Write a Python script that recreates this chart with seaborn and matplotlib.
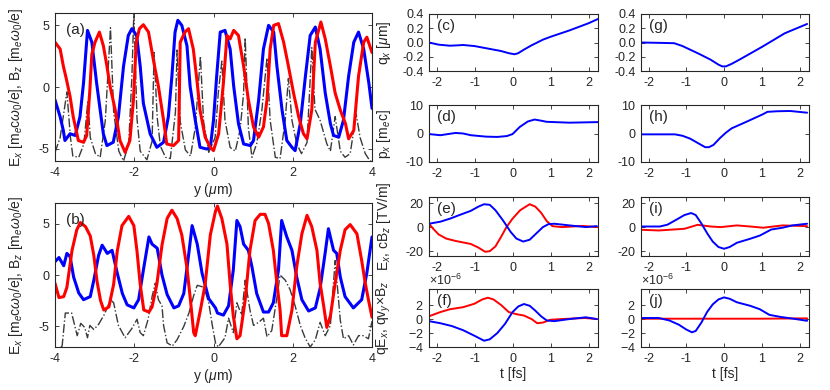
import numpy as np
import seaborn as sns
import matplotlib.pyplot as plt
from matplotlib.ticker import ScalarFormatter

# ---- panel (a): fields vs y ----
a_blue_y = [-4.00, -3.87, -3.79, -3.75, -3.62, -3.49, -3.37, -3.28, -3.18, -3.07, -2.95, -2.86, -2.78, -2.69,
            -2.53, -2.40, -2.27, -2.15, -2.06, -1.94, -1.85, -1.77, -1.60, -1.43, -1.26, -1.14, -1.05, -0.97,
            -0.90, -0.80, -0.67, -0.59, -0.46, -0.34, -0.17, -0.08, 0.00, 0.08, 0.17, 0.29, 0.42, 0.51, 0.63,
            0.76, 0.93, 1.01, 1.14, 1.26, 1.39, 1.52, 1.60, 1.73, 1.85, 1.98, 2.06, 2.19, 2.32, 2.44, 2.57,
            2.69, 2.82, 2.95, 3.03, 3.16, 3.28, 3.41, 3.54, 3.66, 3.79, 3.92, 4.00]
a_blue_v = [-1.04, -2.42, -3.52, -4.34, -3.79, -3.93, -2.42, 0.33, 4.59, 3.63, 0.33, -1.87, -3.79, -4.75,
            -4.48, -2.42, 1.70, 4.18, 4.73, 4.18, 1.70, -1.32, -3.79, -4.89, -4.48, -2.42, 0.88, 4.45,
            5.41, 5.00, 3.35, 0.05, -2.69, -4.89, -5.03, -4.89, -2.69, 0.88, 4.45, 4.59, 3.08, 0.05, -2.97,
            -4.62, -4.75, -4.34, -1.04, 3.08, 5.00, 4.45, 1.70, -1.87, -4.34, -4.89, -5.16, -2.97, 0.88, 4.18, 4.86,
            3.08, -0.49, -2.97, -3.93, -4.07, -2.69, 0.88, 3.63, 4.45, 3.08, 0.33, -1.73]
a_red_y = [-4.00, -3.87, -3.79, -3.71, -3.62, -3.54, -3.41, -3.28, -3.20, -3.12, -3.07, -2.99, -2.88, -2.78,
           -2.69, -2.61, -2.48, -2.36, -2.23, -2.11, -2.02, -1.95, -1.87, -1.77, -1.64, -1.52, -1.39, -1.26,
           -1.18, -1.01, -0.88, -0.84, -0.72, -0.63, -0.51, -0.42, -0.34, -0.21, -0.08, 0.00, 0.13, 0.25,
           0.34, 0.42, 0.51, 0.63, 0.76, 0.88, 1.01, 1.14, 1.26, 1.35, 1.43, 1.52, 1.64, 1.77, 1.89, 2.02,
           2.15, 2.27, 2.36, 2.48, 2.57, 2.71, 2.82, 2.95, 3.07, 3.20, 3.33, 3.41, 3.54, 3.66, 3.79, 3.87, 4.00]
a_red_v = [3.63, 3.08, 1.70, 0.60, -0.77, -2.42, -4.34, -4.48, -3.93, -0.22, 2.66, 3.63, 4.45, 3.35,
           1.70, 0.05, -1.87, -4.34, -5.30, -4.34, -1.04, 3.63, 4.73, 5.05, 4.45, 2.25, 0.05, -2.69,
           -4.62, -4.75, -4.34, 3.63, 4.45, 4.73, 3.08, 0.60, -1.87, -4.07, -4.89, -5.16, -3.79, 0.33,
           4.18, 3.90, 4.59, 4.18, 1.70, -1.04, -3.24, -4.07, -3.24, -1.04, 3.08, 5.00, 5.14, 3.63, 1.70, -0.49,
           -2.42, -3.79, -4.20, -1.87, 3.63, 5.27, 3.90, 1.70, -0.49, -1.87, -2.97, -4.20, -3.52, 0.88, 3.63, 4.04, 2.80]
a_dash_y = [-4.00, -3.87, -3.70, -3.61, -3.55, -3.40, -3.27, -3.17, -3.11, -2.98, -2.86, -2.73, -2.60, -2.52,
            -2.39, -2.27, -2.14, -2.06, -2.01, -1.93, -1.85, -1.68, -1.55, -1.50, -1.42, -1.34, -1.21, -1.09,
            -0.96, -0.92, -0.84, -0.71, -0.58, -0.46, -0.33, -0.25, -0.12, 0.04, 0.12, 0.21, 0.29, 0.42, 0.55,
            0.67, 0.76, 0.80, 0.88, 0.97, 1.09, 1.22, 1.35, 1.43, 1.56, 1.68, 1.81, 1.89, 1.98, 2.10, 2.22,
            2.36, 2.48, 2.56, 2.69, 2.86, 2.95, 3.07, 3.20, 3.32, 3.45, 3.60, 3.70, 3.83, 3.95, 4.00]
a_dash_v = [-5.3, -4.1, -0.4, -4.1, -5.6, -5.7, -4.6, -1.1, -4.1, -5.4, -5.7, -2.7, 4.8, -2.0,
            -5.2, -6.0, -4.6, 0.8, 6.0, -2.6, -5.2, -5.9, -4.4, 2.8, -2.5, -4.8, -5.7, -5.8,
            -2.0, 3.0, -2.8, -5.1, -5.6, -3.3, 2.5, -2.8, -5.3, -4.1, -0.5, 2.1, -2.7, -4.9, -5.2,
            -3.5, -0.5, 4.0, -3.3, -5.7, -4.6, -1.9, 2.35, -2.7, -5.7, -5.8, -2.7, 0.7, -2.7, -4.6, -5.4,
            -4.5, 3.2, -1.8, -2.7, -4.6, -5.2, -2.4, -5.2, -5.7, -5.4, -2.2, -4.1, -5.4, -6.0, -6.0]

# ---- panel (b) ----
b_blue_y = [-4.00, -3.90, -3.78, -3.70, -3.62, -3.53, -3.40, -3.28, -3.11, -3.02, -2.90, -2.81, -2.68, -2.56,
            -2.43, -2.30, -2.18, -2.01, -1.89, -1.76, -1.63, -1.55, -1.42, -1.30, -1.17, -1.00, -0.88, -0.75,
            -0.62, -0.54, -0.41, -0.29, -0.12, 0.05, 0.10, 0.25, 0.38, 0.50, 0.59, 0.67, 0.76, 0.88, 0.97,
            1.09, 1.26, 1.39, 1.51, 1.64, 1.72, 1.85, 1.98, 2.10, 2.23, 2.40, 2.57, 2.69, 2.82, 2.90, 3.03,
            3.11, 3.20, 3.32, 3.53, 3.74, 3.87, 4.00]
b_blue_v = [1.3, 1.7, 0.9, 2.1, 1.8, -0.2, -1.75, -2.4, -2.1, -0.5, 1.9, 2.9, 2.1, 2.4,
            0.2, -1.8, -2.9, -3.2, -2.4, 0.7, 3.7, 3.0, 2.6, 0.0, -1.9, -3.2, -3.0, -1.8,
            2.2, 4.8, 3.0, 0.2, -2.3, -3.2, -3.7, -3.9, -3.0, 0.5, 5.3, 4.7, 3.0, 2.4, 0.8,
            -1.8, -3.6, -3.6, -2.7, 0.5, 5.3, 3.7, 2.4, -0.2, -2.4, -3.5, -3.2, -1.3, 2.2, 4.5, 2.4,
            2.1, -0.2, -2.1, -3.2, -2.4, 0.2, 3.7]
b_red_y = [-4.00, -3.90, -3.78, -3.70, -3.57, -3.45, -3.36, -3.23, -3.11, -3.02, -2.94, -2.85, -2.77, -2.64,
           -2.52, -2.43, -2.31, -2.14, -2.01, -1.93, -1.85, -1.76, -1.63, -1.55, -1.43, -1.30, -1.17, -1.05,
           -0.92, -0.80, -0.67, -0.58, -0.50, -0.46, -0.33, -0.21, -0.08, 0.05, 0.10, 0.21, 0.34, 0.42, 0.50,
           0.59, 0.67, 0.80, 0.92, 1.05, 1.18, 1.30, 1.39, 1.51, 1.60, 1.68, 1.72, 1.85, 1.98, 2.10, 2.23,
           2.36, 2.48, 2.61, 2.69, 2.78, 2.86, 2.95, 3.07, 3.20, 3.32, 3.45, 3.62, 3.74, 3.83, 3.91, 4.00]
b_red_v = [-0.8, -2.2, -2.1, -1.2, 2.4, 4.4, 5.1, 4.7, 3.8, 1.9, -0.6, -2.5, -3.4, -3.1,
           -0.9, 2.3, 4.8, 5.7, 4.8, 2.3, -0.9, -3.4, -3.6, -3.1, -0.9, 2.9, 5.5, 6.3,
           5.5, 3.9, 0.7, -2.5, -5.6, -5.9, -3.4, -0.9, 3.9, 6.2, 6.7, 5.5, 3.0, -0.9, -4.0,
           -6.2, -5.9, -2.4, 2.4, 5.3, 5.9, 5.9, 5.0, 2.4, -0.8, -3.4, -5.9, -5.9, -3.4, 0.8, 4.0,
           5.8, 4.7, 2.4, -0.8, -3.0, -5.1, -4.0, -0.8, 2.4, 4.4, 4.9, 4.0, 1.4, -0.8, -2.4, -4.1]
b_dash_y = [-3.85, -3.82, -3.74, -3.58, -3.44, -3.35, -3.25, -3.18, -3.12, -3.02, -2.90, -2.75, -2.60, -2.52,
            -2.40, -2.23, -2.06, -1.93, -1.85, -1.77, -1.65, -1.55, -1.47, -1.39, -1.30, -1.26, -1.17, -1.04,
            -0.92, -0.75, -0.62, -0.50, -0.41, -0.24, -0.12, -0.03, 0.05, 0.12, 0.29, 0.38, 0.50, 0.59, 0.71,
            0.80, 0.92, 1.01, 1.14, 1.26, 1.35, 1.47, 1.60, 1.68, 1.81, 1.93, 2.06, 2.19, 2.31, 2.44, 2.57,
            2.69, 2.82, 2.95, 3.07, 3.20, 3.28, 3.41, 3.53, 3.66, 3.78, 3.91, 4.00]
b_dash_v = [-7.0, -6.9, -3.7, -3.7, -5.9, -4.7, -5.1, -6.1, -4.9, -5.3, -4.8, -3.8, -2.4, -2.7,
            -4.9, -6.1, -5.2, -4.3, -5.6, -5.9, -4.3, -2.1, -0.8, -2.4, -3.0, -4.9, -6.6, -6.9,
            -6.3, -5.0, -3.7, -2.0, -1.0, -1.2, -2.7, -4.9, -6.6, -7.0, -6.1, -4.2, -5.6, -2.7, -3.9,
            -0.5, -3.4, -4.9, -4.6, -4.2, -6.0, -5.4, -2.2, 0.0, -0.5, -1.4, -3.0, -4.9, -6.1, -7.0, -6.3,
            -4.6, -5.9, -4.9, 1.4, -4.4, -6.2, -5.9, -6.8, -5.9, -5.9, -6.2, -4.5]

# ---- (c) q_x, (d) p_x : first set ----
c_t = [-2.2, -1.95, -1.65, -1.45, -1.3, -1.0, -0.6, -0.3, -0.1, 0.05, 0.15, 0.3, 0.5, 0.8, 1.0, 1.5, 2.0, 2.25]
c_q = [0.0, -0.03, -0.045, -0.04, -0.035, -0.05, -0.09, -0.12, -0.15, -0.165, -0.15, -0.1, -0.04, 0.04, 0.08,
       0.17, 0.27, 0.33]
d_t = [-2.2, -1.9, -1.7, -1.5, -1.3, -1.1, -0.7, -0.4, -0.15, 0.0, 0.19, 0.4, 0.58, 0.75, 0.9, 1.5, 2.25]
d_p = [-0.2, -0.6, -0.2, 0.2, 0.0, -0.6, -1.1, -1.2, -0.9, -0.2, 2.3, 4.2, 4.9, 4.5, 4.1, 3.8, 4.0]
# ---- (g) q_x, (h) p_x : second set ----
g_t = [-2.2, -1.7, -1.32, -1.1, -0.9, -0.66, -0.36, -0.15, -0.05, 0.05, 0.2, 0.41, 1.01, 1.61, 2.2]
g_q = [0.0, -0.005, -0.01, -0.05, -0.1, -0.16, -0.24, -0.31, -0.335, -0.335, -0.3, -0.24, -0.06, 0.13, 0.26]
h_t = [-2.2, -1.3, -1.1, -0.9, -0.7, -0.5, -0.4, -0.28, -0.1, 0.05, 0.2, 0.59, 1.02, 1.15, 1.4, 1.75, 2.2]
h_p = [-0.3, -0.3, -0.8, -1.8, -3.3, -4.8, -4.8, -4.0, -1.5, 0.3, 1.8, 4.1, 6.7, 7.6, 7.8, 7.9, 7.3]

# ---- (e) E_x, cB_z ----
e_t_blue = [-2.2, -1.9, -1.65, -1.4, -1.1, -0.9, -0.75, -0.6, -0.45, -0.25, -0.05, 0.1, 0.28, 0.45, 0.6, 0.8,
            0.95, 1.1, 1.5, 1.93, 2.22]
e_blue = [2.8, 4.5, 7.0, 10.0, 13.5, 17.0, 19.0, 18.5, 14.0, 5.5, -4.0, -9.5, -12.0, -10.5, -6.0, 0.0,
          2.5, 2.8, 1.4, 0.0, 0.8]
e_t_red = [-2.2, -2.1, -1.95, -1.75, -1.5, -1.1, -0.9, -0.72, -0.6, -0.45, -0.3, -0.16, 0.0, 0.2, 0.45, 0.6,
           0.75, 0.9, 1.05, 1.3, 1.85, 2.22]
e_red = [2.8, -1.0, -6.0, -9.5, -11.5, -14.0, -17.0, -20.5, -20.0, -16.0, -8.0, 0.0, 7.0, 14.0, 19.0, 17.0,
         12.0, 5.0, 0.8, 0.0, 1.0, 0.0]
# ---- (i) ----
i_t_blue = [-2.2, -1.7, -1.5, -1.3, -1.05, -0.87, -0.75, -0.6, -0.44, -0.3, -0.15, 0.0, 0.15, 0.34, 0.69, 0.95,
            1.1, 1.25, 1.55, 1.81, 2.2]
i_blue = [0.5, 0.5, 2.0, 5.5, 10.0, 11.7, 10.0, 3.0, -5.5, -12.0, -16.5, -18.0, -16.5, -13.0, -9.7, -7.0,
          -4.5, -2.0, -0.5, 1.4, 2.8]
i_t_red = [-2.2, -1.73, -1.05, -0.7, -0.36, -0.09, 0.34, 0.69, 1.04, 1.55, 2.2]
i_red = [-2.2, -2.8, -1.4, 1.9, 0.5, 0.0, 1.4, 0.5, -0.5, 1.4, 0.8]

# ---- (f) qE_x, qv_y x B_z (units of 1e-6) ----
f_t_red = [-2.2, -1.9, -1.65, -1.3, -1.0, -0.8, -0.65, -0.5, -0.3, -0.1, 0.1, 0.3, 0.5, 0.65, 0.8, 1.0, 1.3,
           1.9, 2.22]
f_red = [0.4, 1.0, 1.4, 1.7, 2.2, 2.8, 3.05, 2.8, 2.0, 1.0, 0.7, 0.5, 0.0, -0.6, -0.5, -0.1, 0.0, 0.15, 0.0]
f_t_blue = [-2.2, -1.9, -1.6, -1.3, -1.0, -0.75, -0.6, -0.4, -0.2, 0.0, 0.15, 0.3, 0.45, 0.6, 0.75, 0.9, 1.1,
            1.5, 1.93, 2.22]
f_blue = [-0.3, -0.6, -1.0, -1.6, -2.4, -3.1, -2.9, -2.0, -0.7, 1.0, 1.8, 2.15, 1.9, 1.2, 0.4, -0.2, -0.3,
          0.0, 0.25, 0.0]
# ---- (j) ----
j_t_blue = [-2.2, -1.73, -1.45, -1.2, -1.0, -0.85, -0.75, -0.6, -0.45, -0.3, -0.15, 0.0, 0.15, 0.34, 0.69,
            0.95, 1.2, 1.5, 1.9, 2.2]
j_blue = [0.15, 0.15, -0.2, -0.8, -1.5, -1.9, -1.7, -0.5, 1.0, 2.1, 2.8, 3.1, 2.9, 2.4, 1.9,
          1.4, 0.6, 0.3, 0.0, -0.25]
j_t_red = [-2.2, -1.0, 0.0, 1.0, 2.2]
j_red = [0.05, 0.05, 0.05, 0.05, 0.1]

sns.set_theme(style="ticks")
plt.rcParams['font.family'] = ['Liberation Sans', 'DejaVu Sans']
plt.rcParams['mathtext.fontset'] = 'custom'
plt.rcParams['mathtext.rm'] = 'Liberation Sans'
plt.rcParams['mathtext.it'] = 'Liberation Sans:italic'
plt.rcParams['axes.unicode_minus'] = False
plt.rcParams['axes.edgecolor'] = '#262626'
plt.rcParams['axes.linewidth'] = 0.8
plt.rcParams['xtick.labelsize'] = 9
plt.rcParams['ytick.labelsize'] = 9

BLUE = '#0000ff'
RED = '#ff0000'
W, H = 830.0, 390.0


def box(px_left, px_top, px_right, px_bottom):
    return [px_left / W, 1 - px_bottom / H, (px_right - px_left) / W, (px_bottom - px_top) / H]


def style(ax, label, lx=0.05, ly=0.92):
    ax.tick_params(direction='in', top=True, right=True, length=3, width=0.6, colors='#262626', pad=4)
    ax.text(lx, ly, label, transform=ax.transAxes, fontsize=11, va='top', ha='left')


def line(ax, x, y, color, lw, ls='-'):
    sns.lineplot(x=np.array(x), y=np.array(y), ax=ax, color=color, lw=lw, ls=ls,
                 estimator=None, sort=False)


fig = plt.figure(figsize=(8.3, 3.9), dpi=100)

left_ylabel = r'E$_x$ [m$_e$c$\omega_0$/e], B$_z$ [m$_e\omega_0$/e]'
for pos, label, blue, red, dash, lim in [
        ((55, 13, 372, 161), '(a)', (a_blue_y, a_blue_v), (a_red_y, a_red_v), (a_dash_y, a_dash_v), 6),
        ((55, 203, 372, 347), '(b)', (b_blue_y, b_blue_v), (b_red_y, b_red_v), (b_dash_y, b_dash_v), 7)]:
    ax = fig.add_axes(box(*pos))
    line(ax, dash[0], dash[1], '#3a3a3a', 1.0, '-.')
    line(ax, *blue, BLUE, 2.2)
    line(ax, *red, RED, 2.2)
    ax.set_xlim(-4, 4)
    ax.set_ylim(-lim, lim)
    ax.set_xticks([-4, -2, 0, 2, 4])
    ax.set_yticks([-5, 0, 5])
    ax.set_xlabel(r'y ($\mu$m)', fontsize=10, labelpad=2)
    ax.set_ylabel(left_ylabel, fontsize=10)
    ax.yaxis.set_label_coords(-0.095, 0.5)
    style(ax, label, 0.035, 0.93)

right_panels = [
    ((429, 14, 598, 71), '(c)', [(c_t, c_q, BLUE)], (-0.4, 0.4), [-0.4, -0.2, 0, 0.2, 0.4], r'q$_x$ [$\mu$m]', False),
    ((429, 105, 598, 162), '(d)', [(d_t, d_p, BLUE)], (-10, 10), [-10, 0, 10], r'p$_x$ [m$_e$c]', False),
    ((429, 197, 598, 256), '(e)', [(e_t_red, e_red, RED), (e_t_blue, e_blue, BLUE)], (-24, 25), [-20, 0, 20],
     r'E$_x$, cB$_z$ [TV/m]', False),
    ((429, 289, 598, 347), '(f)', [(f_t_red, f_red, RED), (f_t_blue, f_blue, BLUE)], (-4, 4.3), [-4, -2, 0, 2],
     r'qE$_x$, qv$_y$$\times$B$_z$', True),
    ((641, 14, 809, 71), '(g)', [(g_t, g_q, BLUE)], (-0.4, 0.4), [-0.4, -0.2, 0, 0.2, 0.4], None, False),
    ((641, 105, 809, 162), '(h)', [(h_t, h_p, BLUE)], (-10, 10), [-10, 0, 10], None, False),
    ((641, 197, 809, 256), '(i)', [(i_t_red, i_red, RED), (i_t_blue, i_blue, BLUE)], (-24, 25), [-20, 0, 20],
     None, False),
    ((641, 289, 809, 347), '(j)', [(j_t_red, j_red, RED), (j_t_blue, j_blue, BLUE)], (-4, 4.3), [-4, -2, 0, 2],
     None, True),
]

for pos, label, series, ylim, yticks, ylabel, scaled in right_panels:
    ax = fig.add_axes(box(*pos))
    k = 1e-6 if scaled else 1.0
    for t, v, col in series:
        line(ax, t, np.array(v) * k, col, 1.4)
    ax.set_xlim(-2.2, 2.25)
    ax.set_ylim(ylim[0] * k, ylim[1] * k)
    ax.set_xticks([-2, -1, 0, 1, 2])
    ax.set_yticks(np.array(yticks) * k)
    if scaled:
        fmt = ScalarFormatter(useMathText=True)
        fmt.set_powerlimits((0, 0))
        ax.yaxis.set_major_formatter(fmt)
        ax.yaxis.get_offset_text().set_fontsize(9)
        ax.set_xlabel('t [fs]', fontsize=10, labelpad=2)
    if ylabel:
        ax.set_ylabel(ylabel, fontsize=10)
        ax.yaxis.set_label_coords(-0.215, 0.5)
    style(ax, label)

fig.savefig('out.png', dpi=100)
